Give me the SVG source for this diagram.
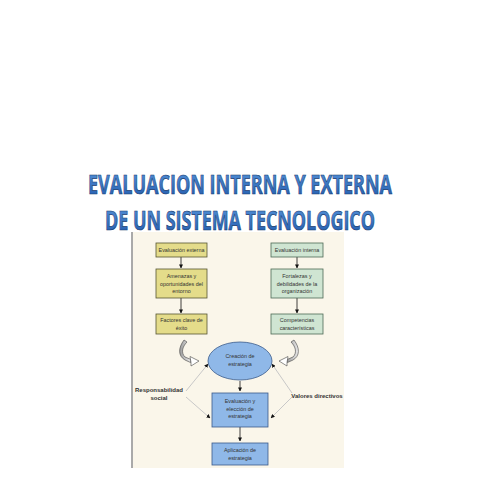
<svg xmlns="http://www.w3.org/2000/svg" width="480" height="480" viewBox="0 0 480 480">
<defs>
<linearGradient id="tg" x1="0" y1="0" x2="0" y2="1">
<stop offset="0" stop-color="#5d9be0"/>
<stop offset="1" stop-color="#1d56a8"/>
</linearGradient>
<linearGradient id="ag" x1="0" y1="0" x2="1" y2="0">
<stop offset="0" stop-color="#9a9a9a"/>
<stop offset="1" stop-color="#ececec"/>
</linearGradient>
<marker id="ah" viewBox="0 0 10 10" refX="9" refY="5" markerWidth="5" markerHeight="5" orient="auto">
<path d="M0,0 L10,5 L0,10 z" fill="#111"/>
</marker>
<marker id="ah2" viewBox="0 0 10 10" refX="9" refY="5" markerWidth="4" markerHeight="4" orient="auto">
<path d="M0,0 L10,5 L0,10 z" fill="#111"/>
</marker>
</defs>
<style>
.title{font-family:"Open Sans","Liberation Sans",sans-serif;font-weight:bold;font-size:20.5px;fill:url(#tg);stroke:#17386e;stroke-width:0.5}
.t{font-family:"Liberation Sans",Arial,sans-serif;font-size:5.4px;fill:#333;text-anchor:middle}
.lab{font-family:"Liberation Sans",Arial,sans-serif;font-size:6px;font-weight:bold;fill:#333;text-anchor:middle}
.y{fill:#e4dc8a;stroke:#555533;stroke-width:0.8}
.g{fill:#cfe5d2;stroke:#4d6a55;stroke-width:0.8}
.b{fill:#8fb8e8;stroke:#3a5a8a;stroke-width:0.8}
.a{stroke:#111;stroke-width:0.8;fill:none;marker-end:url(#ah)}
.d{stroke:#c8c8c8;stroke-width:1;fill:none;marker-end:url(#ah2)}
.c{fill:url(#ag);stroke:#444;stroke-width:0.6}
.h{fill:#ffffff;stroke:#444;stroke-width:0.6}
</style>
<rect width="480" height="480" fill="#ffffff"/>
<g id="title">
<g transform="translate(240,194) scale(1,1.32)"><text class="title" x="0" y="0" text-anchor="middle" textLength="304" lengthAdjust="spacingAndGlyphs">EVALUACION INTERNA Y EXTERNA</text></g>
<g transform="translate(240,230) scale(1,1.32)"><text class="title" x="0" y="0" text-anchor="middle" textLength="270" lengthAdjust="spacingAndGlyphs">DE UN SISTEMA TECNOLOGICO</text></g>
</g>
<rect x="133" y="232" width="211" height="236" fill="#faf6ea"/>
<line x1="132" y1="232" x2="132" y2="468" stroke="#555" stroke-width="1"/>
<g id="connectors">
<line class="a" x1="181" y1="257" x2="181" y2="268"/>
<line class="a" x1="181" y1="298" x2="181" y2="313"/>
<line class="a" x1="297" y1="257" x2="297" y2="268"/>
<line class="a" x1="297" y1="298" x2="297" y2="313"/>
<line class="a" x1="240" y1="381" x2="240" y2="391"/>
<line class="a" x1="240" y1="427" x2="240" y2="441"/>
<line class="d" x1="186" y1="391" x2="208" y2="364"/>
<line class="d" x1="186" y1="397" x2="210" y2="418"/>
<line class="d" x1="292" y1="393" x2="272" y2="364"/>
<line class="d" x1="292" y1="397" x2="271" y2="418"/>
<path class="c" d="M187,342 C182,347 181,353 185,357 L191,359.5 L190.5,362.5 L185,360 C178,356 178,348 184,340 Z"/>
<path class="h" d="M190,356.5 L199,361 L191,366 L191,362.5 Z"/>
<path class="c" d="M291,342 C296,347 297,353 293,357 L287,359.5 L287.5,362.5 L293,360 C300,356 300,348 294,340 Z"/>
<path class="h" d="M288,356.5 L279,361 L287,366 L287,362.5 Z"/>
</g>
<g id="eval-externa"><rect class="y" x="156" y="243" width="51" height="14"/><text class="t" x="181.5" y="252">Evaluación externa</text></g>
<g id="amenazas"><rect class="y" x="156" y="269" width="51" height="29"/><text class="t" x="181.5" y="278">Amenazas y</text><text class="t" x="181.5" y="285.5">oportunidades del</text><text class="t" x="181.5" y="293">entorno</text></g>
<g id="factores"><rect class="y" x="156" y="314" width="51" height="20"/><text class="t" x="181.5" y="322">Factores clave de</text><text class="t" x="181.5" y="329.5">éxito</text></g>
<g id="eval-interna"><rect class="g" x="271" y="243" width="52" height="14"/><text class="t" x="297" y="252">Evaluación interna</text></g>
<g id="fortalezas"><rect class="g" x="271" y="269" width="52" height="29"/><text class="t" x="297" y="278">Fortalezas y</text><text class="t" x="297" y="285.5">debilidades de la</text><text class="t" x="297" y="293">organización</text></g>
<g id="competencias"><rect class="g" x="271" y="314" width="52" height="20"/><text class="t" x="297" y="322">Competencias</text><text class="t" x="297" y="329.5">características</text></g>
<g id="creacion"><ellipse class="b" cx="240" cy="361" rx="32" ry="19"/><text class="t" x="240" y="358">Creación de</text><text class="t" x="240" y="365.5">estrategia</text></g>
<g id="eleccion"><rect class="b" x="212" y="393" width="56" height="34"/><text class="t" x="240" y="403">Evaluación y</text><text class="t" x="240" y="410.5">elección de</text><text class="t" x="240" y="418">estrategia</text></g>
<g id="aplicacion"><rect class="b" x="212" y="443" width="56" height="22"/><text class="t" x="240" y="452">Aplicación de</text><text class="t" x="240" y="459.5">estrategia</text></g>
<g id="responsabilidad"><text class="lab" x="159" y="392">Responsabilidad</text><text class="lab" x="159" y="400">social</text></g>
<g id="valores"><text class="lab" x="317" y="398">Valores directivos</text></g>
</svg>
